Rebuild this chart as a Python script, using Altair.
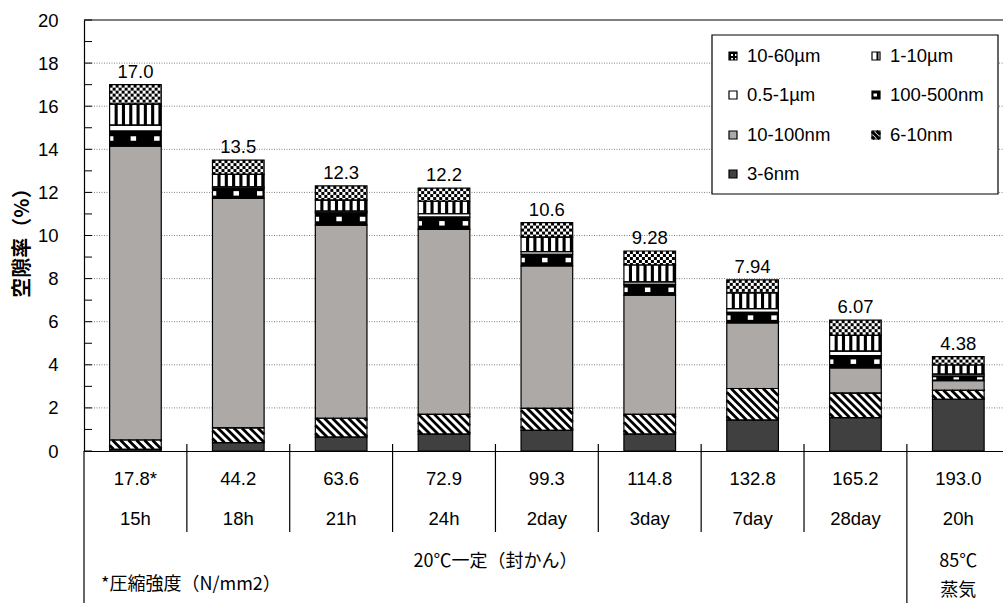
import math

import altair as alt
import pandas as pd

FONT = "Liberation Sans, Noto Sans CJK JP, sans-serif"
JP_FONT = "Noto Sans CJK JP, Liberation Sans, sans-serif"
FS = 18.5

# ---- data -----------------------------------------------------------------
strength = ["17.8*", "44.2", "63.6", "72.9", "99.3", "114.8", "132.8", "165.2", "193.0"]
age = ["15h", "18h", "21h", "24h", "2day", "3day", "7day", "28day", "20h"]
total_label = ["17.0", "13.5", "12.3", "12.2", "10.6", "9.28", "7.94", "6.07", "4.38"]

# pore volume (%) per pore-size class, stacked bottom to top
pore_classes = ["3-6nm", "6-10nm", "10-100nm", "100-500nm", "0.5-1µm", "1-10µm", "10-60µm"]
v_3_6nm = [0.08, 0.39, 0.64, 0.78, 0.96, 0.78, 1.43, 1.55, 2.40]
v_6_10nm = [0.43, 0.68, 0.88, 0.92, 1.02, 0.92, 1.47, 1.14, 0.42]
v_10_100nm = [13.64, 10.65, 8.96, 8.58, 6.61, 5.53, 3.05, 1.17, 0.44]
v_100_500nm = [0.70, 0.47, 0.57, 0.57, 0.54, 0.50, 0.48, 0.57, 0.22]
v_05_1um = [0.27, 0.07, 0.08, 0.16, 0.12, 0.12, 0.18, 0.20, 0.09]
v_1_10um = [0.98, 0.58, 0.51, 0.58, 0.67, 0.78, 0.73, 0.74, 0.42]
v_10_60um = [0.90, 0.66, 0.66, 0.61, 0.68, 0.65, 0.60, 0.70, 0.39]
series = [v_3_6nm, v_6_10nm, v_10_100nm, v_100_500nm, v_05_1um, v_1_10um, v_10_60um]

group_main = "20℃一定（封かん）"
group_steam = ["85℃", "蒸気"]
note = "*圧縮強度（N/mm2）"
y_title = "空隙率（%）"

# ---- layout ---------------------------------------------------------------
W, H = 919, 431
CAT_W = 102.86
XMAX = W / CAT_W
YMAX = 20
KX = CAT_W
KY = H / YMAX
HALF = 0.251

fills = {
    "3-6nm": "#404040", "6-10nm": "white", "10-100nm": "#ADA9A7",
    "100-500nm": "black", "0.5-1µm": "white", "1-10µm": "white", "10-60µm": "white",
}


def to_x(px):
    return px / KX


def to_y(py):
    # py: pixels measured upward from the x axis
    return py / KY


def from_top(p):
    return H - p


rects, blacks, whites, lines = [], [], [], []


def add_rect(lst, xa, ya, xb, yb):
    lst.append(dict(x=to_x(xa), x2=to_x(xb), y=to_y(ya), y2=to_y(yb)))


def checker(x0, y0, w, h, c, keep_white=lambda r, k: (r + k) % 2 == 1):
    nr = math.ceil(h / c - 1e-6)
    nc = math.ceil(w / c - 1e-6)
    for r in range(nr):
        ya = y0 + h - r * c
        yb = max(y0, ya - c)
        for k in range(nc):
            if not keep_white(r, k):
                xa = x0 + k * c
                add_rect(blacks, xa, yb, min(x0 + w, xa + c), ya)


def stripes(x0, y0, w, h, start, period, sw):
    s = start
    while s < w:
        add_rect(blacks, x0 + s, y0, x0 + min(w, s + sw), y0 + h)
        s += period


def dashes(x0, y0, w, h, spans, dh):
    dh = min(dh, 0.45 * h)
    ym = y0 + h / 2
    for xa, xb in spans:
        add_rect(whites, x0 + xa, ym - dh / 2, x0 + min(w, xb), ym + dh / 2)


def hatch(x0, y0, w, h, period):
    c = period / 2
    while c < w + h:
        xa = max(0.0, c - h)
        xb = min(w, c)
        if xb > xa:
            lines.append(dict(x=to_x(x0 + xa), y=to_y(y0 + c - xa),
                              x2=to_x(x0 + xb), y2=to_y(y0 + c - xb)))
        c += period


def decorate(cls, x0, y0, w, h, small=False):
    if cls == "10-60µm":
        if small:
            checker(x0, y0, w, h, 2, keep_white=lambda r, k: r % 2 == 1 and k % 2 == 1)
        else:
            checker(x0, y0, w, h, 3)
    elif cls == "1-10µm":
        stripes(x0, y0, w, h, 4.5 if small else 5.0, 100 if small else 7.3, 2 if small else 3.1)
    elif cls == "100-500nm":
        spans = [(1.5, 5)] if small else [(0, 3.8), (21, 26.5), (44.5, 50)]
        dashes(x0, y0, w, h, spans, 3 if small else 4.5)
    elif cls == "6-10nm":
        hatch(x0, y0, w, h, 5 if small else 8)


# stacked bars
labels = []
for i in range(len(strength)):
    base = 0.0
    for cls, vals in zip(pore_classes, series):
        v = vals[i]
        rects.append(dict(x=i + 0.5 - HALF, x2=i + 0.5 + HALF, y=base, y2=base + v, cls=cls))
        decorate(cls, (i + 0.5 - HALF) * KX, base * KY, 2 * HALF * KX, v * KY)
        base += v
    labels.append(dict(x=i + 0.5, y=base, t=total_label[i]))

# legend
legend_items = [("10-60µm", 0, 0), ("1-10µm", 1, 0), ("0.5-1µm", 0, 1), ("100-500nm", 1, 1),
                ("10-100nm", 0, 2), ("6-10nm", 1, 2), ("3-6nm", 0, 3)]
LEG_SYM_X = [645, 788]
LEG_TXT_X = [663, 806]
LEG_ROW_Y = [36, 75, 115, 154]
SYM = 8
legend_text = []
for cls, col, row in legend_items:
    sx = LEG_SYM_X[col]
    sy = from_top(LEG_ROW_Y[row]) - SYM / 2
    rects.append(dict(x=to_x(sx), x2=to_x(sx + SYM), y=to_y(sy), y2=to_y(sy + SYM), cls=cls))
    decorate(cls, sx, sy, SYM, SYM, small=True)
    legend_text.append(dict(x=to_x(LEG_TXT_X[col]), y=to_y(from_top(LEG_ROW_Y[row])), t=cls))
legend_box = pd.DataFrame([dict(x=to_x(628), x2=to_x(914), y=to_y(from_top(15)), y2=to_y(from_top(174)))])

# table under the axis
table = []
for i in range(len(strength)):
    table.append(dict(x=i + 0.5, y=to_y(from_top(458.5)), t=strength[i]))
    table.append(dict(x=i + 0.5, y=to_y(from_top(498.5)), t=age[i]))
groups = [
    dict(x=4.0, y=to_y(from_top(542)), t=group_main),
    dict(x=8.5, y=to_y(from_top(542)), t=group_steam[0]),
    dict(x=8.5, y=to_y(from_top(571)), t=group_steam[1]),
]
note_df = pd.DataFrame([dict(x=to_x(17), y=to_y(from_top(565)), t=note)])
title_df = pd.DataFrame([dict(x=to_x(-61), y=to_y(from_top(218)), t=y_title)])

seps = [dict(x=k, y=to_y(7), y2=to_y(from_top(512))) for k in range(1, 8)]
seps.append(dict(x=8, y=to_y(7), y2=to_y(from_top(583))))
seps.append(dict(x=0, y=0, y2=to_y(from_top(583))))

ticks = pd.DataFrame([dict(x=0, x2=to_x(8), y=v) for v in range(0, 21)])
grid = pd.DataFrame([dict(x=0, x2=XMAX, y=v) for v in range(2, 20, 2)])
top_line = pd.DataFrame([dict(x=0, x2=XMAX, y=20)])

# ---- chart ----------------------------------------------------------------
xs = alt.Scale(domain=[0, XMAX], nice=False, zero=False)
ys = alt.Scale(domain=[0, YMAX], nice=False, zero=False)
x_axis = alt.Axis(labels=False, ticks=False, grid=False, domain=True,
                  domainColor="black", domainWidth=1.2, title=None, zindex=1)
y_axis = alt.Axis(values=list(range(0, 21, 2)), ticks=False, tickSize=0,
                  labelPadding=26, labelFont=FONT, labelFontSize=FS,
                  labelColor="black", domainColor="black", domainWidth=1.2,
                  grid=False, title=None, zindex=1)


def X(f="x"):
    return alt.X(f"{f}:Q", scale=xs, axis=x_axis)


def Y(f="y"):
    return alt.Y(f"{f}:Q", scale=ys, axis=y_axis)


grid_layer = alt.Chart(grid).mark_rule(color="#808080", strokeDash=[1, 1.5], strokeWidth=1).encode(
    x=X(), x2="x2:Q", y=Y())

box_layer = alt.Chart(legend_box).mark_rect(fill="white", stroke="black", strokeWidth=1.2).encode(
    x=X(), x2="x2:Q", y=Y(), y2="y2:Q")

rect_df = pd.DataFrame(rects)
fill_layer = alt.Chart(rect_df).mark_rect(strokeWidth=0).encode(
    x=X(), x2="x2:Q", y=Y(), y2="y2:Q",
    fill=alt.Fill("cls:N", scale=alt.Scale(domain=pore_classes, range=[fills[c] for c in pore_classes]),
                  legend=None),
)
black_layer = alt.Chart(pd.DataFrame(blacks)).mark_rect(color="black", strokeWidth=0).encode(
    x=X(), x2="x2:Q", y=Y(), y2="y2:Q")
white_layer = alt.Chart(pd.DataFrame(whites)).mark_rect(color="white", strokeWidth=0).encode(
    x=X(), x2="x2:Q", y=Y(), y2="y2:Q")
hatch_layer = alt.Chart(pd.DataFrame(lines)).mark_rule(color="black", strokeWidth=2.8, strokeCap="butt").encode(
    x=X(), x2="x2:Q", y=Y(), y2="y2:Q")
outline_layer = alt.Chart(rect_df).mark_rect(filled=False, color="black", strokeWidth=1.2).encode(
    x=X(), x2="x2:Q", y=Y(), y2="y2:Q")

value_layer = alt.Chart(pd.DataFrame(labels)).mark_text(
    font=FONT, fontSize=FS, color="black", baseline="alphabetic", dy=-7).encode(x=X(), y=Y(), text="t:N")

tick_layer = alt.Chart(ticks).mark_rule(color="black", strokeWidth=1).encode(x=X(), x2="x2:Q", y=Y())
top_layer = alt.Chart(top_line).mark_rule(color="black", strokeWidth=1.2).encode(x=X(), x2="x2:Q", y=Y())
sep_layer = alt.Chart(pd.DataFrame(seps)).mark_rule(color="black", strokeWidth=1.2).encode(
    x=X(), y=Y(), y2="y2:Q")

table_layer = alt.Chart(pd.DataFrame(table)).mark_text(
    font=FONT, fontSize=FS, color="black", baseline="middle").encode(x=X(), y=Y(), text="t:N")
group_layer = alt.Chart(pd.DataFrame(groups)).mark_text(
    font=JP_FONT, fontSize=18, color="black", baseline="middle").encode(x=X(), y=Y(), text="t:N")
note_layer = alt.Chart(note_df).mark_text(
    font=JP_FONT, fontSize=18, color="black", baseline="middle", align="left").encode(x=X(), y=Y(), text="t:N")
legend_text_layer = alt.Chart(pd.DataFrame(legend_text)).mark_text(
    font=FONT, fontSize=FS, color="black", baseline="middle", align="left").encode(x=X(), y=Y(), text="t:N")
title_layer = alt.Chart(title_df).mark_text(
    font=JP_FONT, fontSize=20, fontWeight="bold", color="black", baseline="middle", align="center",
    angle=270).encode(x=X(), y=Y(), text="t:N")

chart = alt.layer(
    grid_layer, box_layer, fill_layer, black_layer, white_layer, hatch_layer, outline_layer,
    value_layer, tick_layer, top_layer, sep_layer, table_layer, group_layer, note_layer,
    legend_text_layer, title_layer,
).properties(
    width=W, height=H,
    padding={"left": 84, "top": 20, "right": 0, "bottom": 152},
    autosize=alt.AutoSizeParams(type="none"),
    background="white",
).configure_view(stroke=None)

chart.save("out.html", embed_options={"renderer": "svg", "actions": False})
